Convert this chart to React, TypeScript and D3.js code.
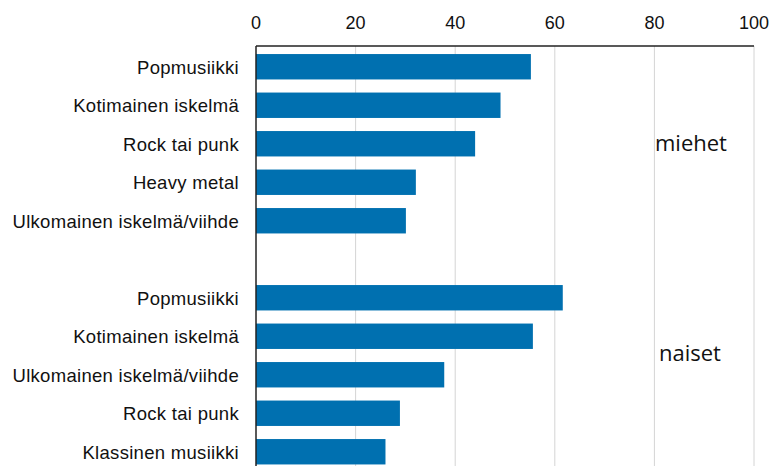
import React from "react";
import * as d3 from "d3";

const menCategories = ["Popmusiikki", "Kotimainen iskelmä", "Rock tai punk", "Heavy metal", "Ulkomainen iskelmä/viihde"];
const menValues = [55.2, 49.1, 44.0, 32.1, 30.1];
const womenCategories = ["Popmusiikki", "Kotimainen iskelmä", "Ulkomainen iskelmä/viihde", "Rock tai punk", "Klassinen musiikki"];
const womenValues = [61.6, 55.6, 37.8, 28.9, 26.0];
const xTicks = [0, 20, 40, 60, 80, 100];
const groupLabels = ["miehet", "naiset"];

const W = 773;
const H = 466;

export default function App() {
  const rows = [
    ...menCategories.map((c, i) => ({ key: "m" + i, label: c, value: menValues[i] })),
    { key: "gap", label: "", value: null as number | null },
    ...womenCategories.map((c, i) => ({ key: "w" + i, label: c, value: womenValues[i] })),
  ];
  const x = d3.scaleLinear().domain([0, 100]).range([256, 754]);
  const y = d3
    .scaleBand<string>()
    .domain(rows.map((r) => r.key))
    .range([47.5, 471])
    .paddingInner(0.34)
    .paddingOuter(0.17);
  const font = "'Liberation Sans', Arial, sans-serif";
  const axisTop = 46;

  return (
    <svg
      width={W}
      height={H}
      style={{ position: "absolute", left: 0, top: 0, background: "#fff" }}
    >
      <rect x={0} y={0} width={W} height={H} fill="#fff" />
      {xTicks.slice(1).map((t) => (
        <line
          key={"g" + t}
          x1={x(t)}
          x2={x(t)}
          y1={axisTop}
          y2={H}
          stroke="#d4d4d4"
          strokeWidth={1}
        />
      ))}
      {xTicks.map((t) => (
        <text
          key={"t" + t}
          x={x(t)}
          y={29}
          textAnchor="middle"
          fontFamily={font}
          fontSize={18}
          fill="#111"
        >
          {t}
        </text>
      ))}
      {rows
        .filter((r) => r.value !== null)
        .map((r) => (
          <rect
            key={"b" + r.key}
            x={x(0)}
            y={y(r.key)}
            width={x(r.value as number) - x(0)}
            height={y.bandwidth()}
            fill="#0070B0"
          />
        ))}
      {rows
        .filter((r) => r.label)
        .map((r) => (
          <text
            key={"l" + r.key}
            x={239}
            y={(y(r.key) as number) + y.bandwidth() / 2 + 7}
            textAnchor="end"
            fontFamily={font}
            fontSize={18.5}
            letterSpacing={0.3}
            fill="#111"
          >
            {r.label}
          </text>
        ))}
      <line x1={x(0)} x2={x(100)} y1={axisTop} y2={axisTop} stroke="#222" strokeWidth={1.5} />
      <line x1={x(0)} x2={x(0)} y1={axisTop} y2={H} stroke="#222" strokeWidth={1.5} />
      <text x={655} y={151} fontFamily="'Open Sans', 'Noto Sans', sans-serif" fontSize={22} fill="#111">
        {groupLabels[0]}
      </text>
      <text x={659} y={361} fontFamily="'Open Sans', 'Noto Sans', sans-serif" fontSize={22} fill="#111">
        {groupLabels[1]}
      </text>
    </svg>
  );
}
